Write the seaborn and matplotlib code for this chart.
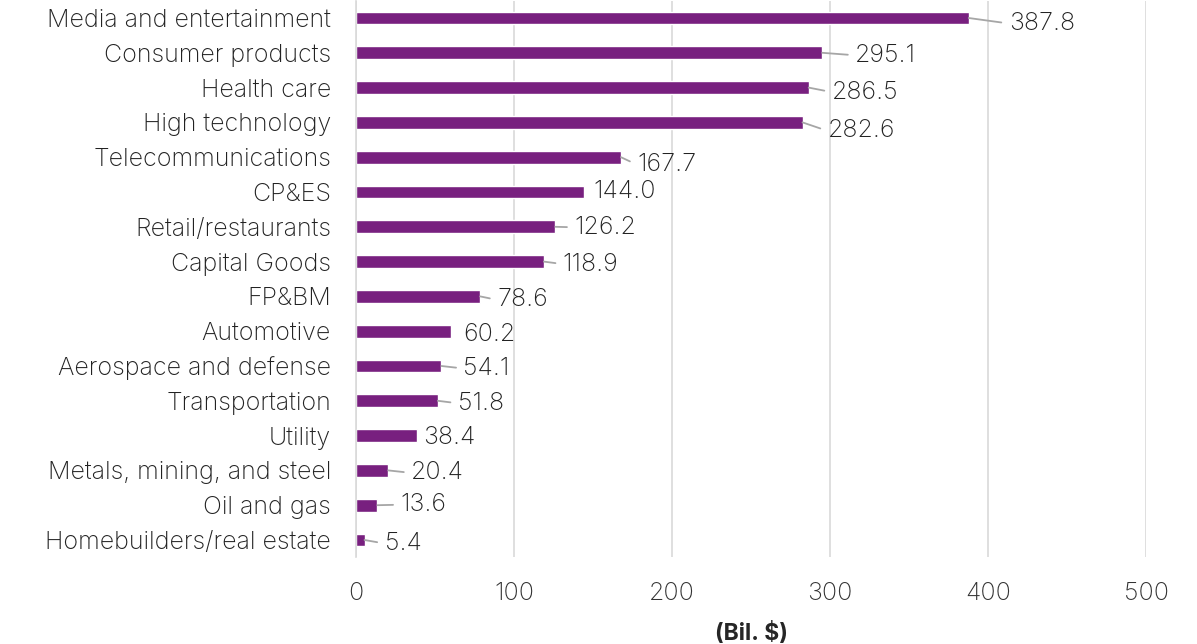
import matplotlib
matplotlib.use('Agg')
import matplotlib.pyplot as plt
import seaborn as sns
import pandas as pd

# sectors and values (Bil. $)
sectors = ['Media and entertainment', 'Consumer products', 'Health care', 'High technology',
           'Telecommunications', 'CP&ES', 'Retail/restaurants', 'Capital Goods', 'FP&BM',
           'Automotive', 'Aerospace and defense', 'Transportation', 'Utility',
           'Metals, mining, and steel', 'Oil and gas', 'Homebuilders/real estate']
values = [387.8, 295.1, 286.5, 282.6, 167.7, 144.0, 126.2, 118.9, 78.6,
          60.2, 54.1, 51.8, 38.4, 20.4, 13.6, 5.4]
x_ticks = [0, 100, 200, 300, 400, 500]

# label offsets (pixels) like the moved labels of the original
label_dx = [40, 33, 23, 25, 16, 10, 19, 19, 17, 12, 22, 20, 6, 23, 23, 20]
label_dy = [-3, 0, -2, -6, -5, 3, 2, 0, -1, -1, 0, 0, 1, 0, 3, -1]

df = pd.DataFrame({'sector': sectors, 'value': values})

sns.set_style('white')
plt.rcParams['font.family'] = ['Inter', 'DejaVu Sans']

fig = plt.figure(figsize=(11.97, 6.44), dpi=100)
ax = fig.add_axes([356 / 1197, 1 - 557.4 / 644, 790 / 1197, 556.8 / 644])

sns.barplot(data=df, y='sector', x='value', orient='h', color='#78207f',
            saturation=1, width=0.37, ax=ax)

ax.set_xlim(0, 500)
ax.set_ylim(len(sectors) - 0.5, -0.5)
ax.set_xticks(x_ticks)
ax.xaxis.grid(True, color='#d9d9d9', linewidth=1.2)
ax.set_axisbelow(True)
for side in ['top', 'right', 'bottom']:
    ax.spines[side].set_visible(False)
ax.spines['left'].set_color('#d9d9d9')
ax.spines['left'].set_linewidth(1.2)
ax.tick_params(axis='x', length=0, pad=18, labelsize=18, labelcolor='#333333')
ax.tick_params(axis='y', length=0, pad=18, labelsize=18, labelcolor='#222222')
for t in ax.get_xticklabels() + ax.get_yticklabels():
    t.set_fontweight('light')
ax.set_ylabel('')
ax.set_xlabel('(Bil. $)', fontsize=16.5, fontweight='bold', labelpad=12)

for i, v in enumerate(values):
    dx, dy = label_dx[i], label_dy[i]
    arrow = None
    if dx > 12:
        arrow = dict(arrowstyle='-', color='#a6a6a6', lw=1.3, shrinkA=3, shrinkB=0,
                     relpos=(0, 0.5))
    ax.annotate(f'{v:.1f}', xy=(v, i), xytext=(dx, dy), textcoords='offset pixels',
                ha='left', va='center_baseline', fontsize=18, fontweight='light',
                color='#222222', arrowprops=arrow, annotation_clip=False)

fig.savefig('out.png', dpi=100)
